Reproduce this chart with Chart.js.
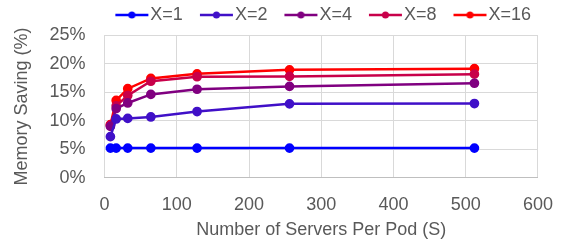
<html>
<head>
    <title>Memory Saving</title>
    <script src="https://cdn.jsdelivr.net/npm/chart.js"></script>
    <style>
        body { margin: 0; background: #fff; }
        #wrap { width: 569px; height: 241px; }
    </style>
</head>
<body>
    <div id="wrap"><canvas id="chart"></canvas></div>
    <script>
        const serversPerPod = [8, 16, 32, 64, 128, 256, 512];
        const seriesNames = ['X=1', 'X=2', 'X=4', 'X=8', 'X=16'];
        const seriesColors = ['#0000ff', '#4010c8', '#800080', '#c8004a', '#ff0000'];
        const savingX1 = [5.2, 5.2, 5.2, 5.2, 5.2, 5.2, 5.2];
        const savingX2 = [7.2, 10.3, 10.4, 10.65, 11.6, 12.95, 13.0];
        const savingX4 = [9.0, 12.1, 13.1, 14.6, 15.5, 16.0, 16.55];
        const savingX8 = [9.2, 12.6, 14.4, 16.9, 17.7, 17.75, 18.15];
        const savingX16 = [9.3, 13.55, 15.6, 17.4, 18.2, 18.9, 19.1];
        const allSeries = [savingX1, savingX2, savingX4, savingX8, savingX16];

        // line + dot marker for the legend, drawn off-centre so it sits right next to the text
        function legendMarker(color) {
            const c = document.createElement('canvas');
            c.width = 42; c.height = 10;
            const g = c.getContext('2d');
            g.strokeStyle = color; g.lineWidth = 2.5;
            g.beginPath(); g.moveTo(8, 5); g.lineTo(41, 5); g.stroke();
            g.fillStyle = color;
            g.beginPath(); g.arc(24.5, 5, 3.5, 0, Math.PI * 2); g.fill();
            return c;
        }

        // legend keeps its wide horizontal padding but takes less height,
        // and its right edge is pulled in a bit
        const legendTweak = {
            id: 'legendTweak',
            beforeInit(chart) {
                const fit = chart.legend.fit;
                chart.legend.fit = function () {
                    fit.call(this);
                    this.height = 46;
                };
            },
            beforeDraw(chart) {
                chart.legend.right = chart.width - 21;
            }
        };

        const datasets = allSeries.map((vals, i) => ({
            label: seriesNames[i],
            data: serversPerPod.map((x, j) => ({ x: x, y: vals[j] })),
            borderColor: seriesColors[i],
            backgroundColor: seriesColors[i],
            borderWidth: 2.5,
            pointRadius: 3.6,
            pointHoverRadius: 3.6,
            tension: 0
        }));

        const font = { family: 'Liberation Sans', size: 18 };
        new Chart(document.getElementById('chart'), {
            type: 'line',
            data: { datasets },
            plugins: [legendTweak],
            options: {
                responsive: true,
                maintainAspectRatio: false,
                animation: false,
                layout: { padding: { left: 11, right: 12, top: -11, bottom: 0 } },
                plugins: {
                    tooltip: { enabled: false },
                    legend: {
                        position: 'top',
                        align: 'end',
                        labels: {
                            color: '#595959',
                            font: font,
                            usePointStyle: true,
                            pointStyleWidth: 26,
                            boxHeight: 10,
                            padding: 17,
                            generateLabels: chart => chart.data.datasets.map((ds, i) => ({
                                text: ds.label,
                                fontColor: '#595959',
                                pointStyle: legendMarker(ds.borderColor),
                                datasetIndex: i,
                                strokeStyle: ds.borderColor,
                                fillStyle: ds.borderColor,
                                lineWidth: 0
                            }))
                        }
                    }
                },
                scales: {
                    x: {
                        type: 'linear',
                        min: 0, max: 600,
                        ticks: { stepSize: 100, color: '#595959', font: font, padding: 16 },
                        grid: { color: '#d9d9d9', drawTicks: false },
                        border: { color: '#bfbfbf' },
                        title: { display: true, text: 'Number of Servers Per Pod (S)', color: '#595959', font: font, padding: { top: -12, bottom: 0 } }
                    },
                    y: {
                        min: 0, max: 25,
                        ticks: { stepSize: 5, autoSkip: false, color: '#595959', font: font, padding: 19, callback: v => v + '%' },
                        grid: { color: '#d9d9d9', drawTicks: false },
                        border: { display: false },
                        title: { display: true, text: 'Memory Saving (%)', color: '#595959', font: font, padding: { top: 0, bottom: -2 } }
                    }
                }
            }
        });
    </script>
</body>
</html>
